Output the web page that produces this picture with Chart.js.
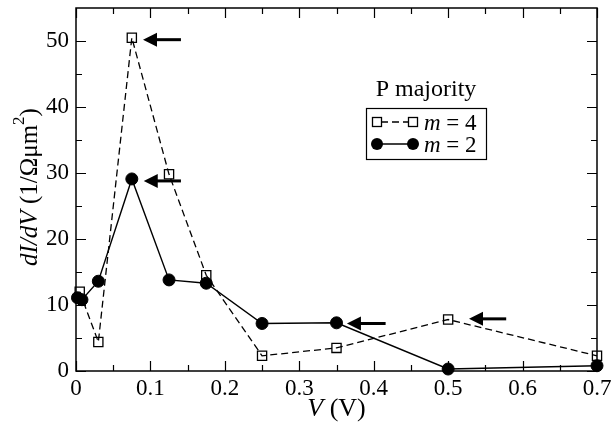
<!DOCTYPE html>
<html>
<head>
<meta charset="utf-8">
<script src="https://cdn.jsdelivr.net/npm/chart.js@4/dist/chart.umd.min.js"></script>
<style>
html,body{margin:0;padding:0;background:#fff;}
#wrap{width:613px;height:424px;}
</style>
</head>
<body>
<div id="wrap"><canvas id="c" width="613" height="424"></canvas></div>
<script>
// ---- data ----
const m4X = [0.005, 0.03, 0.075, 0.125, 0.175, 0.25, 0.35, 0.5, 0.7];
const m4Y = [12.0, 4.4, 50.5, 29.8, 14.5, 2.3, 3.5, 7.8, 2.3];
const m2X = [0.002, 0.008, 0.03, 0.075, 0.125, 0.175, 0.25, 0.35, 0.5, 0.7];
const m2Y = [11.1, 10.8, 13.6, 29.1, 13.8, 13.3, 7.2, 7.3, 0.3, 0.8];
const xTicks = [0, 0.1, 0.2, 0.3, 0.4, 0.5, 0.6, 0.7];
const xMinorTicks = [0.05, 0.15, 0.25, 0.35, 0.45, 0.55, 0.65];
const yTicks = [0, 10, 20, 30, 40, 50];
const yMinorTicks = [5, 15, 25, 35, 45];
const arrowTipX = [0.09, 0.091, 0.364, 0.528];
const arrowTailX = [0.141, 0.141, 0.416, 0.578];
const arrowY = [50.2, 28.8, 7.2, 7.9];
const seriesLabels = ['m = 4', 'm = 2'];
const legendTitle = 'P majority';

const FONT = '"Liberation Serif", "DejaVu Serif", serif';

function pts(xs, ys){ return xs.map((x,i)=>({x:x, y:ys[i]})); }

const decor = {
  id: 'decor',
  afterDatasetsDraw(chart){
    const ctx = chart.ctx;
    const xs = chart.scales.x, ys = chart.scales.y;
    const a = chart.chartArea;
    ctx.save();
    ctx.strokeStyle = '#000';
    ctx.fillStyle = '#000';
    // frame
    ctx.lineWidth = 1.5;
    ctx.strokeRect(a.left, a.top, a.right - a.left, a.bottom - a.top);
    // ticks
    ctx.lineWidth = 1.2;
    ctx.beginPath();
    const tx = (v, len) => {
      const p = Math.round(xs.getPixelForValue(v)) + 0.5;
      ctx.moveTo(p, a.bottom); ctx.lineTo(p, a.bottom - len);
      ctx.moveTo(p, a.top); ctx.lineTo(p, a.top + len);
    };
    const ty = (v, len) => {
      const p = Math.round(ys.getPixelForValue(v)) + 0.5;
      ctx.moveTo(a.left, p); ctx.lineTo(a.left + len, p);
      ctx.moveTo(a.right, p); ctx.lineTo(a.right - len, p);
    };
    xTicks.forEach(v => tx(v, 10));
    xMinorTicks.forEach(v => tx(v, 6));
    yTicks.forEach(v => ty(v, 10));
    yMinorTicks.forEach(v => ty(v, 6));
    ctx.stroke();
    // arrows
    for (let i = 0; i < arrowY.length; i++) {
      const x0 = xs.getPixelForValue(arrowTipX[i]);
      const x1 = xs.getPixelForValue(arrowTailX[i]);
      const y = ys.getPixelForValue(arrowY[i]);
      ctx.lineWidth = 3;
      ctx.beginPath();
      ctx.moveTo(x0 + 10, y); ctx.lineTo(x1, y);
      ctx.stroke();
      ctx.beginPath();
      ctx.moveTo(x0, y);
      ctx.lineTo(x0 + 14, y - 7);
      ctx.lineTo(x0 + 14, y + 7);
      ctx.closePath();
      ctx.fill();
    }
    // legend title
    ctx.font = '24px ' + FONT;
    ctx.textAlign = 'center';
    ctx.textBaseline = 'alphabetic';
    ctx.fillText(legendTitle, 426, 96);
    // legend box
    ctx.lineWidth = 1.2;
    ctx.strokeRect(366.5, 108.5, 120, 51);
    // entries
    const drawLabel = (txt, x, y) => {
      const parts = txt.split(' ');
      ctx.textAlign = 'left';
      ctx.font = 'italic 23px ' + FONT;
      ctx.fillText(parts[0], x, y);
      let w = ctx.measureText(parts[0]).width;
      ctx.font = '23px ' + FONT;
      ctx.fillText(' ' + parts.slice(1).join(' '), x + w, y);
    };
    // m = 4
    let ly = 122;
    ctx.lineWidth = 1.3;
    ctx.setLineDash([7, 4]);
    ctx.beginPath(); ctx.moveTo(381, ly); ctx.lineTo(409, ly); ctx.stroke();
    ctx.setLineDash([]);
    ctx.fillStyle = '#fff';
    [377, 413].forEach(px => {
      ctx.fillRect(px - 4.5, ly - 4.5, 9, 9);
      ctx.strokeRect(px - 4.5, ly - 4.5, 9, 9);
    });
    ctx.fillStyle = '#000';
    drawLabel(seriesLabels[0], 424, ly + 8);
    // m = 2
    ly = 144;
    ctx.lineWidth = 1.5;
    ctx.beginPath(); ctx.moveTo(377, ly); ctx.lineTo(413, ly); ctx.stroke();
    [377, 413].forEach(px => {
      ctx.beginPath(); ctx.arc(px, ly, 6, 0, Math.PI * 2); ctx.fill();
    });
    drawLabel(seriesLabels[1], 424, ly + 8);

    // x title: V (V)
    ctx.textBaseline = 'alphabetic';
    ctx.font = 'italic 26px ' + FONT;
    const wV = ctx.measureText('V').width;
    ctx.font = '26px ' + FONT;
    const wR = ctx.measureText(' (V)').width;
    const cx = (a.left + a.right) / 2;
    let sx = cx - (wV + wR) / 2;
    ctx.textAlign = 'left';
    ctx.font = 'italic 26px ' + FONT;
    ctx.fillText('V', sx, 416);
    ctx.font = '26px ' + FONT;
    ctx.fillText(' (V)', sx + wV, 416);

    // y title: dI/dV (1/Ωμm^2)
    ctx.save();
    ctx.translate(37, 187);
    ctx.rotate(-Math.PI / 2);
    const segs = [
      {t: 'dI/dV', f: 'italic 25px ' + FONT, dy: 0},
      {t: ' (1/Ωμm', f: '25px ' + FONT, dy: 0},
      {t: '2', f: '17px ' + FONT, dy: -13},
      {t: ')', f: '25px ' + FONT, dy: 0}
    ];
    let tot = 0;
    segs.forEach(s => { ctx.font = s.f; s.w = ctx.measureText(s.t).width; tot += s.w; });
    let px = -tot / 2;
    ctx.textAlign = 'left';
    segs.forEach(s => { ctx.font = s.f; ctx.fillText(s.t, px, s.dy); px += s.w; });
    ctx.restore();

    ctx.restore();
  }
};

new Chart(document.getElementById('c'), {
  type: 'line',
  data: {
    datasets: [
      {
        label: seriesLabels[0],
        data: pts(m4X, m4Y),
        borderColor: '#000',
        borderWidth: 1.3,
        borderDash: [7, 4],
        pointStyle: 'rect',
        pointRadius: 6.5,
        pointBorderWidth: 1.3,
        pointBackgroundColor: 'rgba(255,255,255,0)',
        pointBorderColor: '#000',
        fill: false,
        tension: 0,
        clip: false
      },
      {
        label: seriesLabels[1],
        data: pts(m2X, m2Y),
        borderColor: '#000',
        borderWidth: 1.4,
        pointStyle: 'circle',
        pointRadius: 6,
        pointBorderWidth: 1,
        pointBackgroundColor: '#000',
        pointBorderColor: '#000',
        fill: false,
        tension: 0,
        clip: false
      }
    ]
  },
  options: {
    responsive: false,
    animation: false,
    events: [],
    layout: { padding: { top: 8, right: 16, left: 0, bottom: 0 } },
    plugins: { legend: { display: false }, title: { display: false }, tooltip: { enabled: false } },
    scales: {
      x: {
        type: 'linear',
        min: 0, max: 0.7,
        grid: { display: false, drawTicks: false },
        border: { display: false },
        afterBuildTicks: s => { s.ticks = xTicks.map(v => ({value: v})); },
        afterFit: s => { s.height = 53; s.paddingLeft = 0; s.paddingRight = 0; },
        ticks: {
          color: '#000',
          padding: 4,
          maxRotation: 0,
          font: { family: FONT, size: 23 },
          callback: v => String(v)
        }
      },
      y: {
        type: 'linear',
        min: 0, max: 55,
        grid: { display: false, drawTicks: false },
        border: { display: false },
        afterBuildTicks: s => { s.ticks = yTicks.map(v => ({value: v})); },
        afterFit: s => { s.width = 76; s.paddingTop = 0; s.paddingBottom = 0; },
        ticks: {
          color: '#000',
          padding: 7,
          font: { family: FONT, size: 23 },
          callback: v => String(v)
        }
      }
    }
  },
  plugins: [decor]
});
</script>
</body>
</html>
